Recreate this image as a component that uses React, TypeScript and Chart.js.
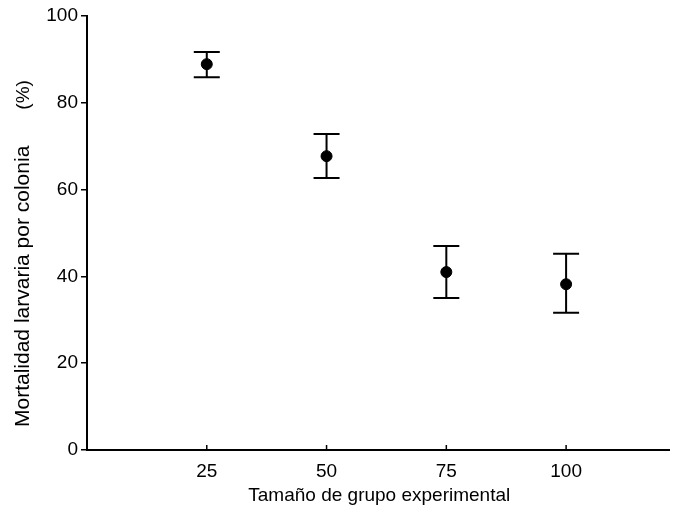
import React, { useEffect, useRef } from "react";
import { Chart, registerables } from "chart.js";

Chart.register(...registerables);

const groupSizes = [25, 50, 75, 100];
const mortality = [88.9, 67.7, 41.0, 38.2];
const errLow = [85.9, 62.7, 35.0, 31.6];
const errHigh = [91.7, 72.8, 47.0, 45.2];
const xTicks = [25, 50, 75, 100];
const yTicks = [0, 20, 40, 60, 80, 100];
const xTitle = "Tamaño de grupo experimental";
const yTitleMain = "Mortalidad larvaria por colonia";
const yTitleUnit = "(%)";

const FONT = "'Liberation Sans', Arial, Helvetica, sans-serif";

const errorBarPlugin = {
  id: "errorBars",
  beforeDatasetsDraw(chart: any) {
    const ctx = chart.ctx;
    const xs = chart.scales.x;
    const ys = chart.scales.y;
    ctx.save();
    ctx.strokeStyle = "#000";
    ctx.lineWidth = 2;
    groupSizes.forEach((g, i) => {
      const px = xs.getPixelForValue(g);
      const top = ys.getPixelForValue(errHigh[i]);
      const bot = ys.getPixelForValue(errLow[i]);
      const half = 13;
      ctx.beginPath();
      ctx.moveTo(px, top);
      ctx.lineTo(px, bot);
      ctx.moveTo(px - half, top);
      ctx.lineTo(px + half, top);
      ctx.moveTo(px - half, bot);
      ctx.lineTo(px + half, bot);
      ctx.stroke();
    });
    const area = chart.chartArea;
    const yb = area.bottom;
    // x axis line continues to the right edge of the figure
    ctx.beginPath();
    ctx.moveTo(area.right - 1, yb);
    ctx.lineTo(chart.width, yb);
    ctx.stroke();
    // inward x tick marks
    ctx.lineWidth = 1.5;
    xTicks.forEach((t) => {
      const px = xs.getPixelForValue(t);
      ctx.beginPath();
      ctx.moveTo(px, yb);
      ctx.lineTo(px, yb - 5);
      ctx.stroke();
    });
    ctx.restore();
  },
  afterDraw(chart: any) {
    const ctx = chart.ctx;
    const area = chart.chartArea;
    ctx.save();
    ctx.fillStyle = "#000";
    ctx.font = `21px ${FONT}`;
    ctx.textAlign = "left";
    ctx.textBaseline = "alphabetic";
    ctx.translate(21, area.bottom - 23);
    ctx.rotate(-Math.PI / 2);
    const w = ctx.measureText(yTitleMain).width;
    ctx.fillText(yTitleMain, 0, 0);
    ctx.font = `19px ${FONT}`;
    ctx.fillText(yTitleUnit, w + 36, 0);
    ctx.restore();
  },
};

export default function App() {
  const ref = useRef<HTMLCanvasElement | null>(null);
  useEffect(() => {
    if (!ref.current) return;
    const chart = new Chart(ref.current, {
      type: "scatter",
      data: {
        datasets: [
          {
            data: groupSizes.map((g, i) => ({ x: g, y: mortality[i] })),
            backgroundColor: "#000",
            borderColor: "#000",
            pointRadius: 5.5,
            pointHoverRadius: 5.5,
          },
        ],
      },
      options: {
        animation: false,
        responsive: false,
        maintainAspectRatio: false,
        devicePixelRatio: 1,
        layout: { padding: { top: 8, right: 0, left: 0, bottom: 0 } },
        plugins: { legend: { display: false }, tooltip: { enabled: false } },
        scales: {
          x: {
            type: "linear",
            min: 0,
            max: 122,
            afterBuildTicks: (axis: any) => {
              axis.ticks = xTicks.map((v) => ({ value: v }));
            },
            afterFit: (axis: any) => {
              axis.height = 57;
              axis.paddingLeft = 0;
              axis.paddingRight = 0;
            },
            grid: { display: false, drawTicks: false },
            border: { display: true, color: "#000", width: 2 },
            ticks: {
              color: "#000",
              font: { family: FONT, size: 19 },
              padding: 10,
              maxRotation: 0,
            },
            title: {
              display: true,
              text: xTitle,
              color: "#000",
              font: { family: FONT, size: 19 },
              padding: { top: 4, bottom: 0 },
            },
          },
          y: {
            type: "linear",
            min: 0,
            max: 100,
            afterBuildTicks: (axis: any) => {
              axis.ticks = yTicks.map((v) => ({ value: v }));
            },
            afterFit: (axis: any) => {
              axis.width = 79;
              axis.paddingTop = 0;
              axis.paddingBottom = 0;
            },
            grid: {
              drawOnChartArea: false,
              drawTicks: true,
              tickLength: 6,
              color: "#000",
              lineWidth: 1.5,
            },
            border: { display: true, color: "#000", width: 2 },
            ticks: {
              color: "#000",
              font: { family: FONT, size: 19 },
              padding: 3,
            },
            title: { display: false },
          },
        },
      },
      plugins: [errorBarPlugin],
    });
    return () => chart.destroy();
  }, []);
  return (
    <div style={{ width: "670px", height: "499px" }}>
      <canvas ref={ref} width={670} height={499} style={{ display: "block" }} />
    </div>
  );
}
